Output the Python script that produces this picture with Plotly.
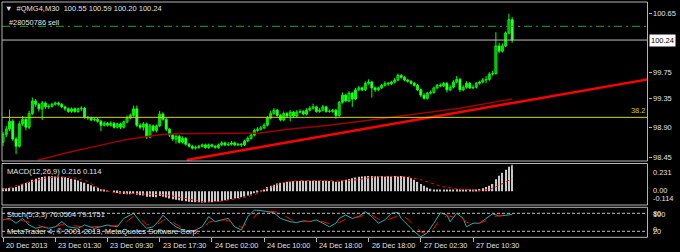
import plotly.graph_objects as go

# ---------------- data ----------------
bar_idx = list(range(157))

opens = [98.68, 98.80, 98.88, 99.00, 98.73, 98.62, 98.96, 99.03, 98.91, 99.12,
         99.31, 99.26, 99.19, 99.28, 99.22, 99.23, 99.26, 99.28, 99.26, 99.22,
         99.19, 99.15, 99.19, 99.15, 99.19, 99.20, 99.06, 99.05, 99.02, 99.03,
         99.00, 98.94, 98.97, 98.94, 98.97, 98.91, 98.96, 98.91, 98.99, 99.05,
         99.09, 99.19, 98.94, 98.91, 98.96, 98.76, 98.93, 98.86, 98.93, 99.11,
         99.03, 98.88, 98.79, 98.73, 98.77, 98.68, 98.74, 98.65, 98.62, 98.59,
         98.60, 98.62, 98.64, 98.60, 98.64, 98.62, 98.60, 98.64, 98.67, 98.64,
         98.65, 98.67, 98.64, 98.65, 98.64, 98.70, 98.74, 98.79, 98.86, 98.88,
         98.90, 98.94, 99.05, 99.12, 99.17, 99.09, 99.02, 99.12, 99.08, 99.14,
         99.08, 99.14, 99.15, 99.11, 99.17, 99.20, 99.22, 99.15, 99.17, 99.22,
         99.15, 99.15, 99.17, 99.09, 99.29, 99.40, 99.31, 99.43, 99.34, 99.48,
         99.51, 99.48, 99.58, 99.60, 99.51, 99.48, 99.51, 99.55, 99.58, 99.57,
         99.60, 99.63, 99.70, 99.67, 99.63, 99.61, 99.58, 99.55, 99.48, 99.40,
         99.35, 99.43, 99.44, 99.51, 99.55, 99.54, 99.58, 99.48, 99.52, 99.60,
         99.64, 99.48, 99.52, 99.58, 99.51, 99.52, 99.58, 99.60, 99.63, 99.64,
         99.72, 99.73, 100.15, 100.07, 100.15, 100.35, 100.55]

closes = [98.80, 98.88, 99.00, 98.73, 98.62, 98.96, 99.03, 98.91, 99.12, 99.31,
          99.26, 99.19, 99.28, 99.22, 99.23, 99.26, 99.28, 99.26, 99.22, 99.19,
          99.15, 99.19, 99.15, 99.19, 99.20, 99.06, 99.05, 99.02, 99.03, 99.00,
          98.94, 98.97, 98.94, 98.97, 98.91, 98.96, 98.91, 98.99, 99.05, 99.09,
          99.19, 98.94, 98.91, 98.96, 98.76, 98.93, 98.86, 98.93, 99.11, 99.03,
          98.88, 98.79, 98.73, 98.77, 98.68, 98.74, 98.65, 98.62, 98.59, 98.60,
          98.62, 98.64, 98.60, 98.64, 98.62, 98.60, 98.64, 98.67, 98.64, 98.65,
          98.67, 98.64, 98.65, 98.64, 98.70, 98.74, 98.79, 98.86, 98.88, 98.90,
          98.94, 99.05, 99.12, 99.17, 99.09, 99.02, 99.12, 99.08, 99.14, 99.08,
          99.14, 99.15, 99.11, 99.17, 99.20, 99.22, 99.15, 99.17, 99.22, 99.15,
          99.15, 99.17, 99.09, 99.29, 99.40, 99.31, 99.43, 99.34, 99.48, 99.51,
          99.48, 99.58, 99.60, 99.51, 99.48, 99.51, 99.55, 99.58, 99.57, 99.60,
          99.63, 99.70, 99.67, 99.63, 99.61, 99.58, 99.55, 99.48, 99.40, 99.35,
          99.43, 99.44, 99.51, 99.55, 99.54, 99.58, 99.48, 99.52, 99.60, 99.64,
          99.48, 99.52, 99.58, 99.51, 99.52, 99.58, 99.60, 99.63, 99.64, 99.72,
          99.73, 100.15, 100.07, 100.15, 100.35, 100.55, 100.24]

highs = [98.84, 98.93, 99.18, 99.03, 98.76, 99.00, 99.08, 99.06, 99.16, 99.36,
         99.34, 99.28, 99.31, 99.30, 99.26, 99.28, 99.30, 99.30, 99.28, 99.24,
         99.21, 99.21, 99.21, 99.21, 99.23, 99.22, 99.08, 99.07, 99.06, 99.05,
         99.02, 99.00, 98.99, 99.00, 98.99, 98.98, 98.98, 99.01, 99.09, 99.12,
         99.24, 99.24, 98.97, 98.99, 98.98, 98.96, 98.95, 98.95, 99.16, 99.14,
         99.05, 98.90, 98.81, 98.80, 98.79, 98.77, 98.76, 98.67, 98.64, 98.63,
         98.64, 98.66, 98.66, 98.66, 98.66, 98.64, 98.66, 98.70, 98.69, 98.68,
         98.70, 98.69, 98.67, 98.67, 98.72, 98.77, 98.82, 98.89, 98.91, 98.93,
         98.97, 99.08, 99.16, 99.20, 99.19, 99.11, 99.15, 99.14, 99.17, 99.16,
         99.17, 99.18, 99.17, 99.20, 99.23, 99.27, 99.24, 99.20, 99.25, 99.24,
         99.18, 99.19, 99.19, 99.31, 99.44, 99.42, 99.46, 99.45, 99.51, 99.54,
         99.53, 99.61, 99.64, 99.62, 99.53, 99.53, 99.57, 99.61, 99.60, 99.62,
         99.66, 99.73, 99.72, 99.69, 99.65, 99.63, 99.60, 99.57, 99.50, 99.43,
         99.45, 99.47, 99.53, 99.57, 99.58, 99.60, 99.60, 99.55, 99.63, 99.69,
         99.66, 99.55, 99.61, 99.60, 99.55, 99.60, 99.62, 99.66, 99.69, 99.75,
         99.77, 100.36, 100.20, 100.19, 100.37, 100.64, 100.59]

lows = [98.62, 98.76, 98.85, 98.70, 98.50, 98.60, 98.93, 98.86, 98.88, 99.10,
        99.22, 99.15, 99.02, 99.19, 99.19, 99.21, 99.24, 99.24, 99.20, 99.16,
        99.13, 99.13, 99.13, 99.13, 99.16, 99.04, 99.02, 99.00, 99.00, 98.98,
        98.85, 98.92, 98.92, 98.92, 98.89, 98.89, 98.88, 98.89, 98.97, 99.03,
        99.07, 98.91, 98.88, 98.86, 98.73, 98.74, 98.84, 98.83, 98.91, 99.01,
        98.85, 98.76, 98.70, 98.66, 98.66, 98.66, 98.63, 98.60, 98.57, 98.57,
        98.58, 98.60, 98.58, 98.58, 98.60, 98.58, 98.58, 98.62, 98.62, 98.62,
        98.63, 98.62, 98.62, 98.61, 98.62, 98.68, 98.72, 98.77, 98.84, 98.86,
        98.88, 98.92, 99.03, 99.10, 99.07, 99.00, 99.00, 99.06, 99.00, 99.06,
        99.06, 99.12, 99.09, 99.09, 99.15, 99.18, 99.13, 99.13, 99.15, 99.13,
        99.13, 99.13, 99.04, 99.07, 99.27, 99.29, 99.29, 99.22, 99.32, 99.46,
        99.46, 99.46, 99.56, 99.36, 99.45, 99.46, 99.49, 99.53, 99.54, 99.55,
        99.58, 99.61, 99.65, 99.61, 99.59, 99.56, 99.53, 99.46, 99.37, 99.33,
        99.33, 99.41, 99.42, 99.49, 99.52, 99.52, 99.44, 99.46, 99.50, 99.58,
        99.45, 99.46, 99.50, 99.49, 99.49, 99.50, 99.56, 99.58, 99.58, 99.62,
        99.70, 99.71, 100.04, 100.05, 100.13, 100.33, 100.20]

time_ticks = [0, 16, 32, 48, 64, 80, 96, 112, 128, 144]
time_labels = ["20 Dec 2013", "23 Dec 01:30", "23 Dec 09:30", "23 Dec 17:30",
               "24 Dec 02:00", "24 Dec 10:00", "24 Dec 18:00", "26 Dec 18:00",
               "27 Dec 02:30", "27 Dec 10:30"]

price_ticks = [100.65, 99.75, 99.35, 98.90, 98.45]
price_labels = ["100.65", "99.75", "99.35", "98.90", "98.45"]

sell_level = 100.45
bid_level = 100.24
fib_level = 99.06

trend_x = [56.3, 197.5]
trend_y = [98.41, 99.64]

ma_x = [10.7, 14.4, 19.5, 24.6, 29.7, 34.8, 38.9, 43.5, 48.6, 52.7, 68.0,
        78.7, 87.3, 97.7, 107.8, 118.6, 140.0, 156.0]
ma_y = [98.41, 98.45, 98.52, 98.58, 98.64, 98.69, 98.73, 98.76, 98.80, 98.81,
        98.82, 98.82, 98.88, 98.93, 98.99, 99.06, 99.20, 99.34]

macd_hist = [0.025, 0.025, 0.028, 0.03, 0.035,
             0.045, 0.06, 0.07, 0.08,
             0.095, 0.105, 0.112,
             0.118, 0.122, 0.124, 0.124, 0.123,
             0.122, 0.12, 0.116, 0.11,
             0.104, 0.097, 0.09,
             0.08, 0.07, 0.06,
             0.05, 0.04, 0.03,
             0.02, 0.012, 0.005, 0.0,
             -0.01, -0.015, -0.02, -0.022, -0.025, -0.025, -0.02,
             -0.028, -0.032, -0.035, -0.045, -0.045, -0.048, -0.05, -0.04,
             -0.045, -0.052, -0.06, -0.066, -0.07, -0.075, -0.078, -0.082,
             -0.086, -0.089, -0.091, -0.092, -0.093, -0.093, -0.092, -0.091,
             -0.088, -0.085, -0.08, -0.075, -0.07, -0.065, -0.06, -0.055,
             -0.05, -0.044, -0.036, -0.027, -0.017, -0.008, 0.002, 0.015,
             0.035, 0.045, 0.055, 0.065, 0.07, 0.075, 0.08, 0.082,
             0.084, 0.085, 0.086, 0.087, 0.088, 0.088, 0.088, 0.088,
             0.087, 0.087, 0.086, 0.085, 0.084, 0.08, 0.082, 0.09,
             0.095, 0.103, 0.108, 0.115, 0.12, 0.122, 0.126, 0.128,
             0.127, 0.126, 0.125, 0.125, 0.125, 0.125, 0.126, 0.127,
             0.128, 0.127, 0.124, 0.118, 0.108, 0.095, 0.078, 0.06,
             0.045, 0.032, 0.022, 0.015, 0.012, 0.012, 0.012, 0.01,
             0.012, 0.014, 0.016, 0.012, 0.01, 0.012, 0.012, 0.012,
             0.015, 0.02, 0.025, 0.035, 0.045, 0.06,
             0.1, 0.13, 0.155, 0.18, 0.205, 0.216]

macd_sig_x = [0, 9, 13, 17, 21, 26, 30, 34, 40, 50, 56, 62, 66, 73, 77, 81, 86,
              91, 101, 103, 109, 113, 118, 124, 128, 134, 139, 146, 149, 152, 156]
macd_sig_y = [0.018, 0.081, 0.11, 0.118, 0.118, 0.082, 0.012, -0.01, -0.02,
              -0.03, -0.057, -0.09, -0.085, -0.057, -0.03, 0.026, 0.073, 0.09,
              0.088, 0.085, 0.097, 0.118, 0.125, 0.122, 0.097, 0.042, 0.02,
              0.008, 0.014, 0.05, 0.105]

stoch_x = [0, 2, 4, 6, 8, 10, 12, 14, 16, 18, 20, 23, 25, 28, 32, 35, 37, 40,
           42, 44, 46, 48, 49, 51, 53, 56, 59, 61, 63, 65, 67, 69, 71, 73, 75,
           77, 79, 81, 83, 85, 88, 90, 92, 94, 96, 98, 100, 102, 103, 105, 107,
           109, 111, 113, 115, 117, 119, 121, 122, 124, 126, 128, 130, 132, 134,
           136, 137, 139, 141, 142, 144, 146, 148, 150, 152, 154, 156]
stoch_main = [58, 63, 47, 63, 41, 30, 35, 30, 35, 52, 35, 30, 41, 30, 41, 35,
              63, 80, 52, 30, 35, 58, 74, 52, 35, 19, 24, 35, 69, 52, 58, 63,
              35, 24, 69, 91, 89, 86, 82, 63, 52, 49, 55, 52, 58, 47, 35, 47,
              63, 74, 63, 69, 86, 69, 47, 58, 80, 83, 63, 41, 19, 2, 15, 47,
              82, 74, 52, 80, 63, 35, 47, 47, 63, 78, 71, 74, 76.05]

stoch_sig_x = [0, 3, 6, 9, 12, 15, 18, 21, 24, 27, 30, 34, 37, 40, 42, 44, 47,
               50, 52, 55, 58, 61, 63, 65, 68, 71, 73, 76, 78, 81, 84, 86, 89,
               92, 95, 98, 101, 103, 106, 109, 111, 113, 115, 117, 120, 122, 124,
               126, 128, 130, 132, 134, 136, 138, 140, 142, 144, 146, 148, 151,
               154, 156]
stoch_sig = [60, 58, 55, 48, 35, 32, 42, 40, 35, 35, 36, 38, 45, 70, 62, 42,
             42, 62, 50, 30, 22, 28, 50, 55, 58, 48, 33, 55, 80, 88, 84, 72,
             55, 52, 54, 52, 42, 50, 65, 68, 75, 74, 60, 55, 68, 75, 60, 38,
             18, 10, 30, 62, 72, 68, 70, 50, 45, 47, 55, 70, 76, 79.18]

macd_range = [-0.114, 0.231]
stoch_levels = [20, 80]
shift_marker_bar = 156

# ---------------- layout constants ----------------
W, H = 680, 252
FONT = "Liberation Sans"
TXT = "#e0e0e0"
BORDER = "#b4b4b4"
LIME = "#00ff00"
x_dom = [2 / W, 647.5 / W]
x_rng = [-0.31, 197.46]
main_dom = [1 - 161 / H, 1 - 2 / H]
macd_dom = [1 - 205 / H, 1 - 163.5 / H]
stoch_dom = [1 - 237.3 / H, 1 - 207.3 / H]

fig = go.Figure()

# candle wicks
wx, wy = [], []
for i, h, l in zip(bar_idx, highs, lows):
    wx += [i, i, None]
    wy += [l, h, None]
fig.add_trace(go.Scatter(x=wx, y=wy, mode="lines", line=dict(color=LIME, width=1),
                         xaxis="x", yaxis="y", showlegend=False, hoverinfo="skip"))
# candle bodies (bull = black body, bear = white body, lime outline)
body = [c - o for o, c in zip(opens, closes)]
body_fill = ["#000000" if c >= o else "#ffffff" for o, c in zip(opens, closes)]
fig.add_trace(go.Bar(x=bar_idx, y=body, base=opens, width=0.6,
                     marker=dict(color=body_fill, line=dict(color=LIME, width=1)),
                     xaxis="x", yaxis="y", showlegend=False, hoverinfo="skip"))

fig.add_trace(go.Scatter(x=ma_x, y=ma_y, mode="lines",
                         line=dict(color="#a00000", width=1.5),
                         xaxis="x", yaxis="y", showlegend=False, hoverinfo="skip"))
fig.add_trace(go.Scatter(x=trend_x, y=trend_y, mode="lines",
                         line=dict(color="#ff0000", width=2.5),
                         xaxis="x", yaxis="y", showlegend=False, hoverinfo="skip"))

fig.add_trace(go.Bar(x=bar_idx, y=macd_hist, width=0.38,
                     marker=dict(color="#c8c8c8", line=dict(width=0)),
                     xaxis="x2", yaxis="y2", showlegend=False, hoverinfo="skip"))
fig.add_trace(go.Scatter(x=macd_sig_x, y=macd_sig_y, mode="lines",
                         line=dict(color="#ff0000", width=1, dash="dot"),
                         xaxis="x2", yaxis="y2", showlegend=False, hoverinfo="skip"))

fig.add_trace(go.Scatter(x=stoch_x, y=stoch_main, mode="lines",
                         line=dict(color="#20b2aa", width=1),
                         xaxis="x3", yaxis="y3", showlegend=False, hoverinfo="skip"))
fig.add_trace(go.Scatter(x=stoch_sig_x, y=stoch_sig, mode="lines",
                         line=dict(color="#ff0000", width=1, dash="dash"),
                         xaxis="x3", yaxis="y3", showlegend=False, hoverinfo="skip"))

shapes = []
shapes.append(dict(type="line", xref="x domain", yref="y", x0=0, x1=1,
                   y0=sell_level, y1=sell_level,
                   line=dict(color="#1fa81f", width=1, dash="8px,4px,2px,4px")))
shapes.append(dict(type="line", xref="x domain", yref="y", x0=0, x1=1,
                   y0=bid_level, y1=bid_level,
                   line=dict(color="#c0c0c0", width=1)))
shapes.append(dict(type="line", xref="x domain", yref="y", x0=0, x1=1,
                   y0=fib_level, y1=fib_level,
                   line=dict(color="#d4d400", width=1)))
for lv in stoch_levels:
    shapes.append(dict(type="line", xref="x3 domain", yref="y3", x0=0, x1=1,
                       y0=lv, y1=lv,
                       line=dict(color="#c0c0c0", width=1, dash="3px,2px")))
for dom in (main_dom, macd_dom, stoch_dom):
    shapes.append(dict(type="rect", xref="paper", yref="paper",
                       x0=x_dom[0], x1=x_dom[1], y0=dom[0], y1=dom[1],
                       line=dict(color=BORDER, width=1), fillcolor="rgba(0,0,0,0)"))
# small chart-shift marker below the last bar
shapes.append(dict(type="line", xref="x2", yref="paper",
                   x0=shift_marker_bar, x1=shift_marker_bar,
                   y0=1 - 169.5 / H, y1=1 - 164.5 / H,
                   line=dict(color="#9a9a9a", width=1)))

ann = []
def txt(x, y, s, size=7.6, xanchor="left", yanchor="middle", color=TXT,
        xref="paper", yref="paper", **kw):
    ann.append(dict(x=x, y=y, xref=xref, yref=yref, text=s, showarrow=False,
                    xanchor=xanchor, yanchor=yanchor,
                    font=dict(family=FONT, size=size, color=color), **kw))

NB = "\u00a0"
txt(3 / W, 1 - 8 / H, "▼" + NB + NB + "#QMG4,M30" + NB + NB + "100.55 100.59 100.20 100.24", size=7.5)
txt(7 / W, 1 - 22.5 / H, "#28050786 sell", size=7.4)
txt(5 / W, 1 - 171 / H, "MACD(12,26,9) 0.216 0.114", size=7.6)
txt(5 / W, 1 - 214.5 / H, "Stoch(5,3,3) 76.0504 79.1751", size=7.4)
txt(5 / W, 1 - 231.5 / H, "MetaTrader 4, © 2001-2013, MetaQuotes Software Corp.", size=7.6)

txt(1, fib_level, "38.2", size=7.4, xanchor="right", yanchor="bottom",
    color="#d4d400", xref="x domain", yref="y", xshift=-1)
txt(649 / W, bid_level, "100.24", size=7.5, color="#000000", xref="paper", yref="y",
    bgcolor="#ffffff", borderpad=1)

txt(651 / W, macd_range[1], "0.231", size=7.4, yanchor="top", yref="y2", yshift=-2)
txt(651 / W, 0, "0.00", size=7.4, yref="y2", yshift=1)
txt(651 / W, macd_range[0], "-0.114", size=7.4, yanchor="bottom", yref="y2", yshift=0)
txt(651 / W, 100, "100", size=7.4, yanchor="top", yref="y3", yshift=-1)
txt(651 / W, 80, "80", size=7.4, yref="y3")
txt(651 / W, 20, "20", size=7.4, yref="y3")
txt(651 / W, 0, "0", size=7.4, yanchor="bottom", yref="y3", yshift=1)

for t, lab in zip(time_ticks, time_labels):
    txt(t, 1 - 245 / H, lab, size=7.3, xref="x3", yref="paper", xshift=1)

ax_common = dict(range=x_rng, domain=x_dom, showgrid=False, zeroline=False,
                 showticklabels=False, showline=False, fixedrange=True)

fig.update_layout(
    width=W, height=H, margin=dict(l=0, r=0, t=0, b=0),
    paper_bgcolor="#000000", plot_bgcolor="#000000",
    template="none", showlegend=False, barmode="overlay",
    xaxis=dict(anchor="y", ticks="", **ax_common),
    xaxis2=dict(anchor="y2", ticks="", **ax_common),
    xaxis3=dict(anchor="y3", ticks="outside", ticklen=4, tickcolor=BORDER,
                tickvals=time_ticks, **ax_common),
    yaxis=dict(domain=main_dom, range=[98.394, 100.821], side="right", anchor="x",
               tickvals=price_ticks, ticktext=price_labels, ticks="outside",
               ticklen=3, tickcolor=BORDER, showgrid=False, zeroline=False,
               tickfont=dict(family=FONT, size=7.5, color=TXT), automargin=False,
               fixedrange=True),
    yaxis2=dict(domain=macd_dom, range=macd_range, anchor="x2", showgrid=False,
                zeroline=False, showticklabels=False, fixedrange=True),
    yaxis3=dict(domain=stoch_dom, range=[0, 100], anchor="x3", showgrid=False,
                zeroline=False, showticklabels=False, fixedrange=True),
    shapes=shapes, annotations=ann,
)

fig.write_html("out.html")
